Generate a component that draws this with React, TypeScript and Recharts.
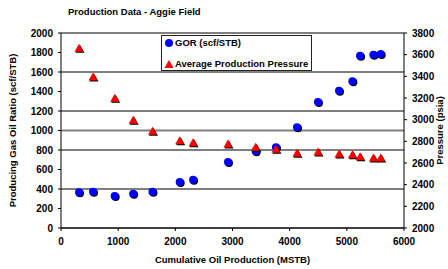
import { ScatterChart, Scatter, XAxis, YAxis, CartesianGrid, Legend, ReferenceLine } from 'recharts';

const cumOil = [315, 560, 939, 1262, 1600, 2076, 2310, 2921, 3405, 3760, 4128, 4495, 4863, 5097, 5231, 5464, 5592];
const gorValues = [366, 372, 328, 352, 372, 472, 495, 677, 786, 828, 1033, 1292, 1408, 1504, 1767, 1777, 1785];
const pressureValues = [3660, 3394, 3197, 2994, 2893, 2806, 2787, 2775, 2745, 2726, 2690, 2701, 2683, 2677, 2658, 2646, 2646];

const xTicks = [0, 1000, 2000, 3000, 4000, 5000, 6000];
const gorTicks = [0, 200, 400, 600, 800, 1000, 1200, 1400, 1600, 1800, 2000];
const pressureTicks = [2000, 2200, 2400, 2600, 2800, 3000, 3200, 3400, 3600, 3800];

const gorData = cumOil.map((x, i) => ({ x, y: gorValues[i] }));
const pressureData = cumOil.map((x, i) => ({ x, y: pressureValues[i] }));

const font = '"Liberation Sans", Arial, sans-serif';
const tickStyle = { fontSize: 10, fontWeight: 'bold', fill: '#000', fontFamily: font };
const labelStyle = { textAnchor: 'middle', fontSize: 9.5, fontWeight: 'bold', fill: '#000', fontFamily: font } as any;

const BlueDot = (props: any) => {
  const { cx, cy } = props;
  return (
    <g>
      <circle cx={cx + 1} cy={cy + 1} r={4} fill="#000" />
      <circle cx={cx} cy={cy} r={4} fill="#0000ff" />
    </g>
  );
};

const triPoints = (cx: number, cy: number) =>
  `${cx},${cy - 4.5} ${cx - 4.5},${cy + 3.5} ${cx + 4.5},${cy + 3.5}`;

const RedTriangle = (props: any) => {
  const { cx, cy } = props;
  return (
    <g>
      <polygon points={triPoints(cx + 1, cy + 1)} fill="#000" />
      <polygon points={triPoints(cx, cy)} fill="#ff0000" />
    </g>
  );
};

const LegendBox = () => (
  <div
    style={{
      width: 149,
      height: 34,
      border: '1px solid #222',
      background: '#fff',
      position: 'relative',
      fontFamily: font,
      fontSize: 9.5,
      fontWeight: 'bold',
      color: '#000',
    }}
  >
    <svg width={12} height={12} style={{ position: 'absolute', left: 1, top: 1 }}>
      <circle cx={6} cy={6} r={4} fill="#0000ff" />
    </svg>
    <span style={{ position: 'absolute', left: 13, top: 1, lineHeight: '12px', whiteSpace: 'nowrap' }}>GOR (scf/STB)</span>
    <svg width={12} height={12} style={{ position: 'absolute', left: 1, top: 22 }}>
      <polygon points={triPoints(6, 6.5)} fill="#ff0000" />
    </svg>
    <span style={{ position: 'absolute', left: 13, top: 22, lineHeight: '12px', whiteSpace: 'nowrap' }}>
      Average Production Pressure
    </span>
  </div>
);

export default function App() {
  return (
    <div style={{ position: 'fixed', left: 0, top: 0, width: 448, height: 269, background: '#fff' }}>
      <div
        style={{
          position: 'absolute',
          left: 68,
          top: 6,
          fontFamily: font,
          fontSize: 9.5,
          fontWeight: 'bold',
          lineHeight: '11px',
          whiteSpace: 'nowrap',
          zIndex: 2,
        }}
      >
        Production Data - Aggie Field
      </div>
      <ScatterChart width={448} height={269} margin={{ top: 33, right: 0, bottom: 0, left: 0 }}>
        <CartesianGrid yAxisId="left" vertical={false} stroke="#000" strokeOpacity={1} />
        <XAxis
          type="number"
          dataKey="x"
          domain={[0, 6000]}
          ticks={xTicks}
          height={41}
          tick={tickStyle}
          tickSize={3}
          tickMargin={7}
          stroke="#000"
          label={{ value: 'Cumulative Oil Production (MSTB)', position: 'insideBottom', offset: 6, style: labelStyle }}
        />
        <YAxis
          yAxisId="left"
          type="number"
          dataKey="y"
          domain={[0, 2000]}
          ticks={gorTicks}
          width={61}
          tick={tickStyle}
          tickSize={3}
          tickMargin={5}
          stroke="#000"
          label={{ value: 'Producing Gas Oil Ratio (scf/STB)', angle: -90, position: 'insideLeft', offset: 13, style: labelStyle }}
        />
        <YAxis
          yAxisId="right"
          orientation="right"
          type="number"
          dataKey="y"
          domain={[2000, 3800]}
          ticks={pressureTicks}
          width={44}
          tick={tickStyle}
          tickSize={3}
          tickMargin={5}
          stroke="#000"
          label={{ value: 'Pressure (psia)', angle: -90, position: 'insideRight', offset: 8, style: labelStyle }}
        />
        <ReferenceLine yAxisId="left" y={1000} stroke="#808080" strokeWidth={2} />
        <Legend
          layout="vertical"
          align="center"
          verticalAlign="middle"
          wrapperStyle={{ left: 161, top: 35, width: 151, height: 36 }}
          content={() => <LegendBox />}
        />
        <Scatter
          name="GOR (scf/STB)"
          yAxisId="left"
          data={gorData}
          shape={BlueDot}
          isAnimationActive={false}
        />
        <Scatter
          name="Average Production Pressure"
          yAxisId="right"
          data={pressureData}
          shape={RedTriangle}
          isAnimationActive={false}
        />
      </ScatterChart>
    </div>
  );
}
